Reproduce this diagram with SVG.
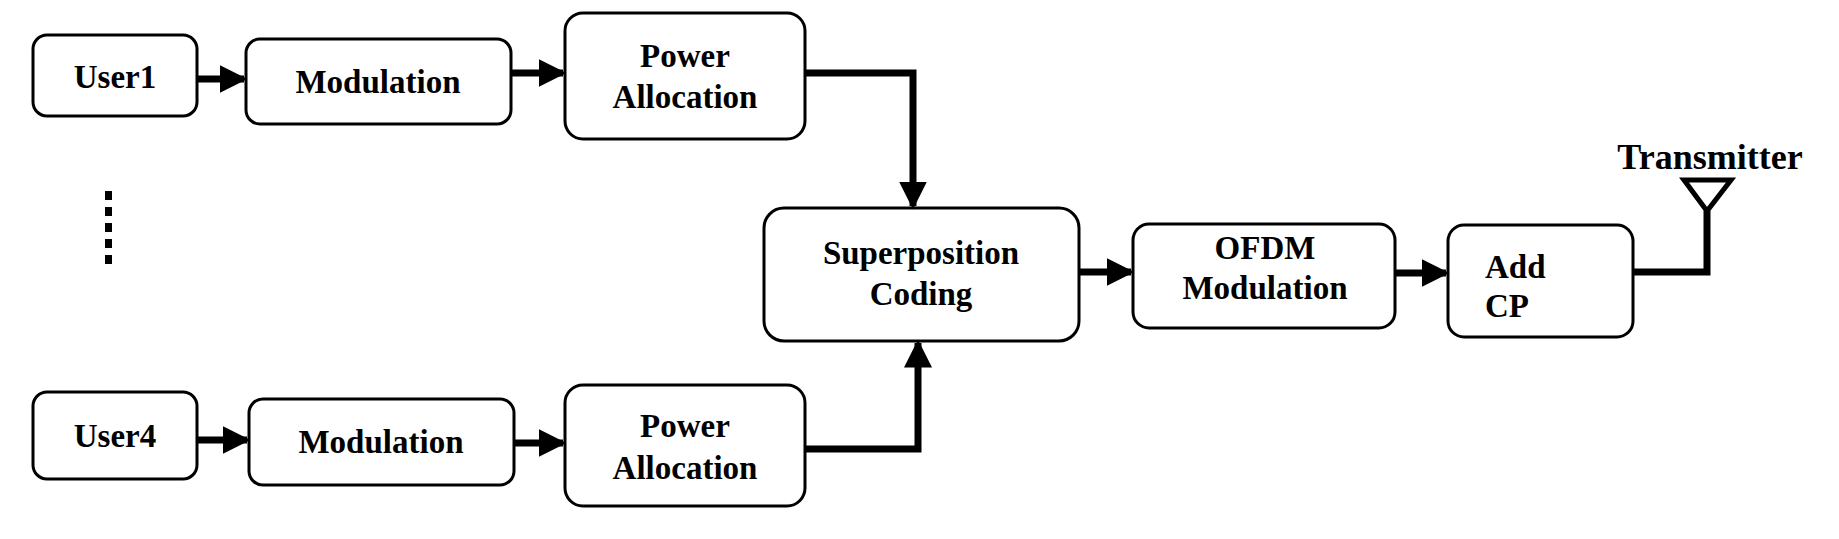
<svg xmlns="http://www.w3.org/2000/svg" width="1839" height="539" viewBox="0 0 1839 539">
<style>
.b{fill:#fff;stroke:#000;stroke-width:3}
.t{font-family:"Liberation Serif",serif;font-weight:bold;font-size:33px;text-anchor:middle;fill:#000}
.c{fill:none;stroke:#000;stroke-width:7}
</style>
<defs><marker id="a" markerWidth="4" markerHeight="4" refX="3.5" refY="2" orient="auto" markerUnits="strokeWidth"><path d="M0,0L4,2L0,4z" fill="#000"/></marker></defs>
<rect width="1839" height="539" fill="#fff"/>
<g id="user1"><rect class="b" x="33" y="35" width="164" height="81" rx="14"/><text class="t" x="115" y="88">User1</text></g>
<g id="mod1"><rect class="b" x="246" y="39" width="265" height="85" rx="14"/><text class="t" x="378" y="93">Modulation</text></g>
<g id="pa1"><rect class="b" x="565" y="13" width="240" height="126" rx="18"/><text class="t" x="685" y="67">Power</text><text class="t" x="685" y="108">Allocation</text></g>
<g id="user4"><rect class="b" x="33" y="392" width="164" height="87" rx="14"/><text class="t" x="115" y="447">User4</text></g>
<g id="mod4"><rect class="b" x="249" y="399" width="265" height="86" rx="14"/><text class="t" x="381" y="453">Modulation</text></g>
<g id="pa4"><rect class="b" x="565" y="385" width="240" height="121" rx="18"/><text class="t" x="685" y="437">Power</text><text class="t" x="685" y="479">Allocation</text></g>
<g id="dots"><line x1="108.5" y1="191" x2="108.5" y2="270" stroke="#000" stroke-width="7" stroke-dasharray="9,7"/></g>
<g id="sc"><rect class="b" x="764" y="208" width="315" height="133" rx="20"/><text class="t" x="921" y="264">Superposition</text><text class="t" x="921" y="305">Coding</text></g>
<g id="ofdm"><rect class="b" x="1133" y="224" width="262" height="104" rx="16"/><text class="t" x="1265" y="259">OFDM</text><text class="t" x="1265" y="299">Modulation</text></g>
<g id="cp"><rect class="b" x="1448" y="225" width="185" height="112" rx="16"/><text class="t" x="1485" y="278" style="text-anchor:start">Add</text><text class="t" x="1485" y="317" style="text-anchor:start">CP</text></g>
<g id="tx"><path d="M1684,180H1731L1707,211Z" fill="none" stroke="#000" stroke-width="5"/><text class="t" x="1710" y="169" style="font-size:36px">Transmitter</text></g>
<g id="connectors">
<line class="c" x1="197" y1="79" x2="244" y2="79" marker-end="url(#a)"/>
<line class="c" x1="511" y1="73" x2="563" y2="73" marker-end="url(#a)"/>
<path class="c" d="M805,73H913V206" marker-end="url(#a)"/>
<line class="c" x1="197" y1="440" x2="247" y2="440" marker-end="url(#a)"/>
<line class="c" x1="514" y1="443" x2="563" y2="443" marker-end="url(#a)"/>
<path class="c" d="M805,449H918V343" marker-end="url(#a)"/>
<line class="c" x1="1079" y1="272" x2="1131" y2="272" marker-end="url(#a)"/>
<line class="c" x1="1395" y1="273" x2="1446" y2="273" marker-end="url(#a)"/>
<path class="c" d="M1633,272H1707V211" stroke-width="5"/>
</g>
</svg>
